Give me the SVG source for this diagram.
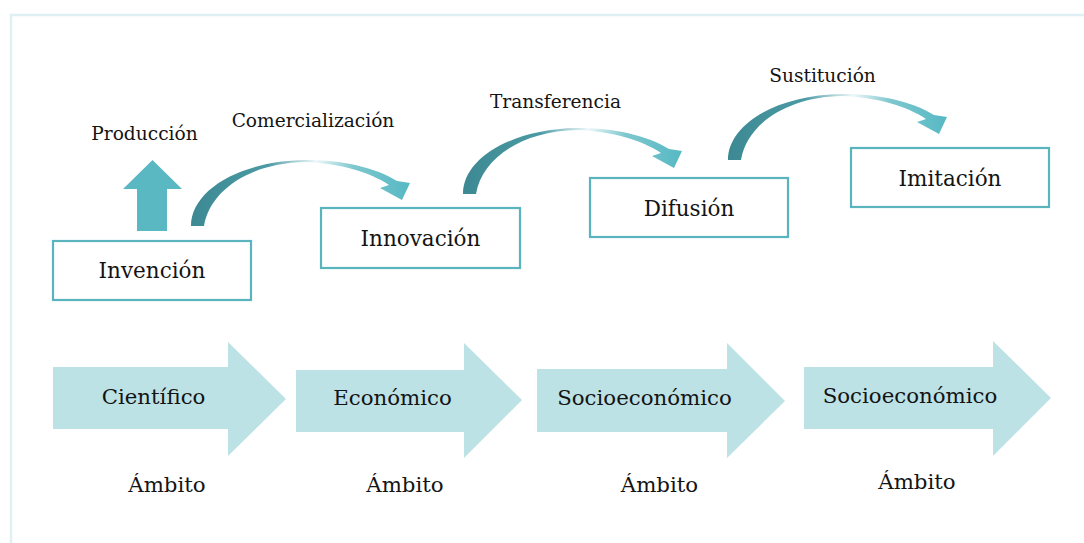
<svg xmlns="http://www.w3.org/2000/svg" width="1084" height="543" viewBox="0 0 1084 543">
  <style>
    .box { fill: #ffffff; stroke: #5ab4be; stroke-width: 2.2; }
    .band { fill: #bde2e6; }
    .t { font-family: "DejaVu Serif", "Liberation Serif", serif; fill: #141414; text-anchor: middle; }
    .lbl { font-size: 18.6px; }
    .node { font-size: 21.5px; }
    .band-t { font-size: 21.3px; }
  </style>
  <defs>
    <linearGradient id="arcGrad" x1="0" y1="0" x2="1" y2="0">
      <stop offset="0" stop-color="#3d8993"/>
      <stop offset="0.35" stop-color="#4a9aa4"/>
      <stop offset="0.57" stop-color="#eef8f9"/>
      <stop offset="0.74" stop-color="#7ec7ce"/>
      <stop offset="1" stop-color="#56b9c4"/>
    </linearGradient>
    <path id="arc" d="M191,226 C191,190 240,161 305,160 C342,160 374,167 397,181 L410,183 L402,200 L380,188 L389,185 C370,172 338,163 305,162 C250,163 210,190 204,226 Z"/>
  </defs>

  <rect x="0" y="0" width="1084" height="543" fill="#ffffff"/>
  <path d="M11,543 L11,15 L1084,15" fill="none" stroke="#dff0f4" stroke-width="2.4"/>

  <g id="connectors">
    <polygon points="152.5,160 182,189 167,189 167,231 137,231 137,189 123,189" fill="#5ab8c3"/>
    <use href="#arc" fill="url(#arcGrad)"/>
    <use href="#arc" fill="url(#arcGrad)" transform="translate(272,-32)"/>
    <use href="#arc" fill="url(#arcGrad)" transform="translate(537,-66)"/>
    <text class="t lbl" x="144.5" y="140">Producción</text>
    <text class="t lbl" x="313" y="127">Comercialización</text>
    <text class="t lbl" x="555.5" y="108">Transferencia</text>
    <text class="t lbl" x="822.5" y="82">Sustitución</text>
  </g>

  <g id="invencion">
    <rect class="box" x="53" y="241" width="198" height="59"/>
    <text class="t node" x="152" y="278">Invención</text>
  </g>
  <g id="innovacion">
    <rect class="box" x="321" y="208" width="199" height="60"/>
    <text class="t node" x="420.5" y="246">Innovación</text>
  </g>
  <g id="difusion">
    <rect class="box" x="590" y="178" width="198" height="59"/>
    <text class="t node" x="689" y="216">Difusión</text>
  </g>
  <g id="imitacion">
    <rect class="box" x="851" y="148" width="198" height="59"/>
    <text class="t node" x="950" y="186">Imitación</text>
  </g>

  <g id="ambito-cientifico">
    <polygon class="band" points="53,367 228,367 228,342 286,399 228,456 228,429 53,429"/>
    <text class="t band-t" x="153.5" y="404">Científico</text>
    <text class="t band-t" x="167" y="492">Ámbito</text>
  </g>
  <g id="ambito-economico">
    <polygon class="band" points="296,370 464,370 464,343 522,400 464,458 464,432 296,432"/>
    <text class="t band-t" x="392.5" y="405">Económico</text>
    <text class="t band-t" x="405" y="492">Ámbito</text>
  </g>
  <g id="ambito-socioeconomico-1">
    <polygon class="band" points="537,369 727,369 727,343 785,401 727,458 727,432 537,432"/>
    <text class="t band-t" x="644.5" y="405">Socioeconómico</text>
    <text class="t band-t" x="659.5" y="492">Ámbito</text>
  </g>
  <g id="ambito-socioeconomico-2">
    <polygon class="band" points="804,367 993,367 993,341 1051,398 993,456 993,429 804,429"/>
    <text class="t band-t" x="910" y="403">Socioeconómico</text>
    <text class="t band-t" x="917" y="489">Ámbito</text>
  </g>
</svg>
